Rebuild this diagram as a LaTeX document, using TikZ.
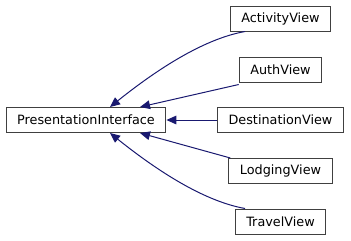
\documentclass[tikz,border=0pt]{standalone}
\usepackage{fontspec}
\setmainfont{DejaVu Sans}
\usetikzlibrary{arrows.meta}

\definecolor{edgeblue}{HTML}{191970}
\definecolor{boxgray}{HTML}{404040}

\begin{document}
\begin{tikzpicture}[x=0.75pt,y=0.75pt,yscale=-1,xscale=1,
    cls/.style={draw=boxgray,line width=0.75pt,fill=white,inner xsep=8.3pt,
      minimum height=18.75pt,font=\fontsize{9.6}{11}\selectfont},
    inh/.style={draw=edgeblue,line width=0.75pt,-{Triangle[length=7.5pt,width=6.5pt]}}]
\useasboundingbox (0,0) rectangle (351,240);
% base class
\node[cls] (pi) at (86,120) {PresentationInterface};
% derived views
\node[cls] (av) at (280.5,18.5) {ActivityView};
\node[cls] (auv) at (280.5,69.5) {AuthView};
\node[cls] (dv) at (280.5,120) {DestinationView};
\node[cls] (lv) at (280.5,171) {LodgingView};
\node[cls] (tv) at (280.5,221.5) {TravelView};
% inheritance edges
\draw[inh] ([xshift=-26.6pt]av.south) .. controls +(-45,8) and +(40,-32) .. ([xshift=18pt]pi.north);
\draw[inh] ([yshift=1.5pt]auv.south west) -- ([xshift=40.5pt]pi.north);
\draw[inh] (dv) -- (pi);
\draw[inh] ([xshift=1.5pt]lv.north west) -- ([xshift=40.5pt]pi.south);
\draw[inh] ([xshift=-26.6pt]tv.north) .. controls +(-45,-8) and +(40,32) .. ([xshift=18pt]pi.south);
\end{tikzpicture}
\end{document}
